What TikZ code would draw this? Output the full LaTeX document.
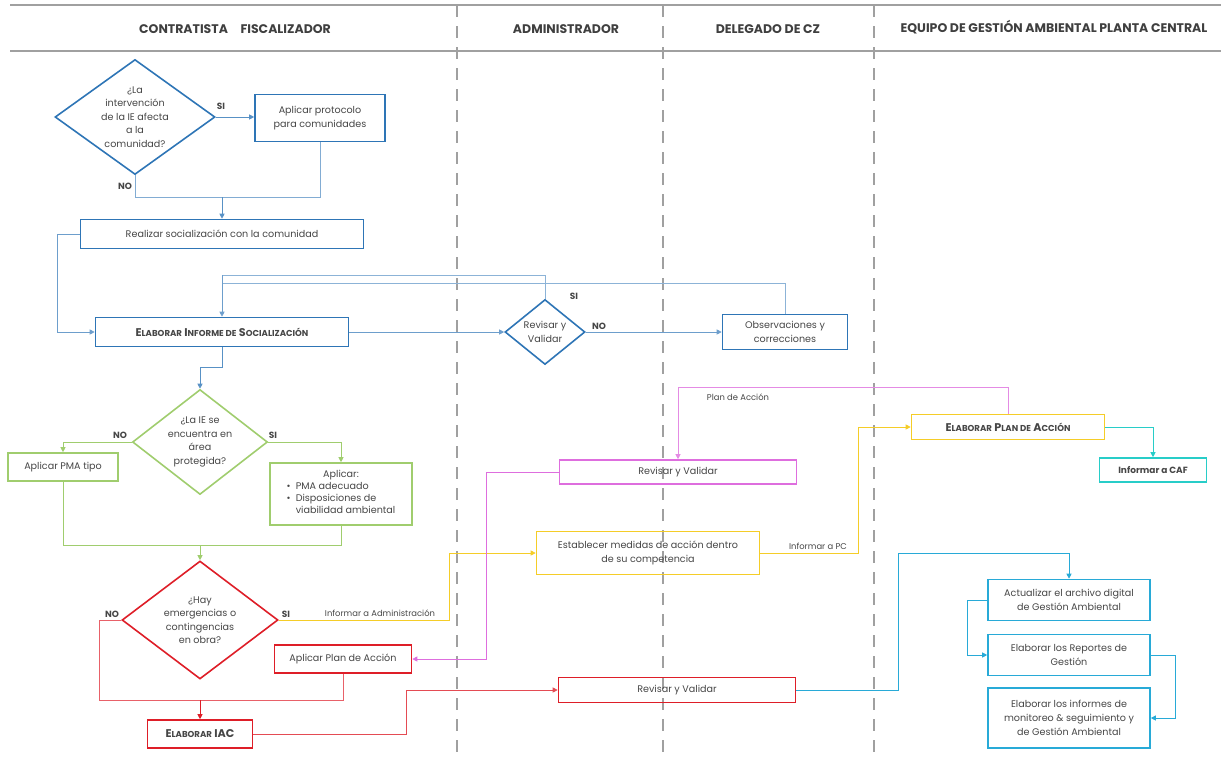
\documentclass[tikz,border=0pt]{standalone}
\usepackage{fontspec}
\setmainfont{Poppins}
\usetikzlibrary{shapes.geometric,arrows.meta}
\definecolor{azul}{RGB}{46,117,182}
\definecolor{verde}{RGB}{160,205,110}
\definecolor{rojo}{RGB}{222,30,40}
\definecolor{amarillo}{RGB}{245,205,40}
\definecolor{rosa}{RGB}{222,110,222}
\definecolor{cian}{RGB}{40,205,200}
\definecolor{celeste}{RGB}{40,170,215}
\definecolor{gris}{RGB}{160,160,160}
\definecolor{tinta}{RGB}{70,70,70}
\newcommand{\laneheight}{758}
\newcommand{\versal}[2]{#1{\fontsize{8.6}{9}\selectfont #2}}
\tikzstyle{caja}=[draw, line width=1.6pt, align=center, inner sep=2pt, text=tinta, font=\fontsize{9.6}{14}\selectfont]
\tikzstyle{decision}=[diamond, draw, line width=1.6pt, inner sep=0pt]
\tikzstyle{dtexto}=[align=center, text=tinta, font=\fontsize{9.6}{13.5}\selectfont]
\tikzstyle{linea}=[line width=0.7pt]
\tikzstyle{flecha}=[line width=0.7pt, -{Triangle[length=5pt,width=5pt]}]
\tikzstyle{rama}=[font=\bfseries\fontsize{9}{10}\selectfont, text=tinta]
\tikzstyle{etiq}=[font=\fontsize{8.4}{9}\selectfont, text=tinta]
\tikzstyle{carril}=[font=\bfseries\fontsize{12.5}{13}\selectfont, text=tinta!90!black]

\begin{document}
\begin{tikzpicture}[x=1pt, y=-1pt]
        \useasboundingbox (0,0) rectangle (1221,\laneheight);

        % header and lanes
        \draw[gris, line width=1.6pt] (10,5) -- (1221,5);
        \draw[gris, line width=1.6pt] (10,51) -- (1221,51);
        \foreach \x in {457,663,874} {
            \draw[gris, line width=2pt, dash pattern=on 12pt off 9pt] (\x,5) -- (\x,\laneheight);
        }
        \node[carril] (h1) at (235,29) {CONTRATISTA\quad FISCALIZADOR};
        \node[carril] (h2) at (566,29) {ADMINISTRADOR};
        \node[carril] (h3) at (768,29) {DELEGADO DE CZ};
        \node[carril] (h4) at (1054,27) {EQUIPO DE GESTIÓN AMBIENTAL PLANTA CENTRAL};

        % socializacion
        \node[decision, draw=azul, minimum width=160pt, minimum height=115pt,
            label={[dtexto]center:{¿La\\intervención\\de la IE afecta\\a la\\comunidad?}}] (d1) at (135,117) {};
        \node[caja, draw=azul, minimum width=130pt, minimum height=47pt] (b1) at (320,118) {Aplicar protocolo\\para comunidades};
        \node[caja, draw=azul, minimum width=283pt, minimum height=29pt] (b2) at (222,234) {Realizar socialización con la comunidad};
        \node[caja, draw=azul, minimum width=253pt, minimum height=29pt, font=\bfseries\fontsize{11.2}{12}\selectfont] (b3) at (222,332)
            {\versal{E}{LABORAR} \versal{I}{NFORME DE} \versal{S}{OCIALIZACIÓN}};
        \node[decision, draw=azul, minimum width=80pt, minimum height=65pt,
            label={[dtexto]center:{Revisar y\\Validar}}] (d2) at (545,332) {};
        \node[caja, draw=azul, minimum width=125pt, minimum height=35pt] (b4) at (785,332) {Observaciones y\\correcciones};

        % area protegida
        \node[decision, draw=verde, minimum width=135pt, minimum height=105pt,
            label={[dtexto]center:{¿La IE se\\encuentra en\\área\\protegida?}}] (d3) at (200,442) {};
        \node[caja, draw=verde, minimum width=110pt, minimum height=28pt] (g1) at (63,467) {Aplicar PMA tipo};
        \node[caja, draw=verde, minimum width=142pt, minimum height=62pt, font=\fontsize{9.6}{12}\selectfont] (g2) at (341,494)
            {Aplicar:\\[0pt]\begin{tabular}{@{}l@{\ \ }l@{}}\textbullet & PMA adecuado\\\textbullet & Disposiciones de\\ & viabilidad ambiental\end{tabular}};

        % emergencias
        \node[decision, draw=rojo, minimum width=156pt, minimum height=118pt,
            label={[dtexto]center:{¿Hay\\emergencias o\\contingencias\\en obra?}}] (d4) at (200,620) {};
        \node[caja, draw=rojo, minimum width=137pt, minimum height=28pt] (r1) at (343,659) {Aplicar Plan de Acción};
        \node[caja, draw=rojo, minimum width=105pt, minimum height=28pt, font=\bfseries\fontsize{11.2}{12}\selectfont] (r2) at (200,734)
            {\versal{E}{LABORAR} IAC};
        \node[caja, draw=rojo, minimum width=237pt, minimum height=25pt] (r3) at (677,690) {Revisar y Validar};

        % plan de accion
        \node[caja, draw=amarillo, minimum width=223pt, minimum height=43pt] (y1) at (648,553) {Establecer medidas de acción dentro\\de su competencia};
        \node[caja, draw=amarillo, minimum width=193pt, minimum height=25pt, font=\bfseries\fontsize{11.2}{12}\selectfont] (y2) at (1008,427)
            {\versal{E}{LABORAR} \versal{P}{LAN DE} \versal{A}{CCIÓN}};
        \node[caja, draw=rosa, minimum width=237pt, minimum height=24pt] (p1) at (678,472) {Revisar y Validar};
        \node[caja, draw=cian, minimum width=107pt, minimum height=24pt, font=\bfseries\fontsize{9}{10}\selectfont] (c1) at (1153,470) {Informar a CAF};

        % gestion ambiental
        \node[caja, draw=celeste, minimum width=162pt, minimum height=41pt] (c2) at (1069,600) {Actualizar el archivo digital\\de Gestión Ambiental};
        \node[caja, draw=celeste, minimum width=162pt, minimum height=41pt] (c3) at (1069,655) {Elaborar los Reportes de\\Gestión};
        \node[caja, draw=celeste, minimum width=162pt, minimum height=60pt] (c4) at (1069,718) {Elaborar los informes de\\monitoreo \& seguimiento y\\de Gestión Ambiental};

        % merge points
        \coordinate (m1) at (222,197);
        \coordinate (m2) at (222,275);
        \coordinate (m3) at (222,283);
        \coordinate (m4) at (200,545);
        \coordinate (m5) at (200,700);
        \coordinate (m6) at (898,553);

        % draw node connections
        \draw[flecha, azul!80] (d1.east) -- (d1.east -| b1.west);
        \draw[linea, azul!60] (d1.south) |- (m1);
        \draw[linea, azul!60] (b1.south) |- (m1);
        \draw[flecha, azul!80] (m1) -- (b2.north);
        \draw[flecha, azul!70] (b2.west) -- ++(-22,0) |- (b3.west);
        \draw[linea, azul!55] (d2.north) |- (m2);
        \draw[linea, azul!55] (b4.north) |- (m3);
        \draw[flecha, azul!70] (m2) -- (b3.north);
        \draw[flecha, azul!70] (b3.east) -- (d2.west);
        \draw[flecha, azul!70] (d2.east) -- (b4.west);
        \draw[flecha, azul!80] (b3.south) -- ++(0,20) -| (d3.north);

        \draw[flecha, verde] (d3.west) -| (g1.north);
        \draw[flecha, verde] (d3.east) -| (g2.north);
        \draw[linea, verde] (g1.south) |- (m4);
        \draw[linea, verde] (g2.south) |- (m4);
        \draw[flecha, verde] (m4) -- (d4.north);

        \draw[flecha, amarillo] (d4.east) -- ++(171,0) |- (y1.west);
        \draw[flecha, amarillo] (y1.east) -- ++(98,0) |- (y2.west);
        \draw[flecha, rosa!80] (y2.north) -- ++(0,-26) -| (p1.north);
        \draw[flecha, cian] (y2.east) -| (c1.north);
        \draw[flecha, rosa] (p1.west) -- ++(-72,0) |- (r1.east);

        \draw[linea, rojo!70] (d4.west) -- ++(-22,0) |- (m5);
        \draw[linea, rojo!70] (r1.south) |- (m5);
        \draw[flecha, rojo] (m5) -- (r2.north);
        \draw[flecha, rojo!80] (r2.east) -- ++(153,0) |- (r3.west);
        \draw[flecha, celeste] (r3.east) -| (m6) -| (c2.north);
        \draw[flecha, celeste] (c2.west) -- ++(-20,0) |- (c3.west);
        \draw[flecha, celeste] (c3.east) -- ++(25,0) |- (c4.east);

        % branch labels
        \node[rama] (s1) at (221,106) {SI};
        \node[rama] (n1) at (125,186) {NO};
        \node[rama] (s2) at (574,296) {SI};
        \node[rama] (n2) at (599,326) {NO};
        \node[rama] (n3) at (120,435) {NO};
        \node[rama] (s3) at (273,435) {SI};
        \node[rama] (n4) at (112,614) {NO};
        \node[rama] (s4) at (286,614) {SI};
        \node[etiq] (l1) at (380,613) {Informar a Administración};
        \node[etiq] (l2) at (818,546) {Informar a PC};
        \node[etiq] (l3) at (738,397) {Plan de Acción};
\end{tikzpicture}
\end{document}
